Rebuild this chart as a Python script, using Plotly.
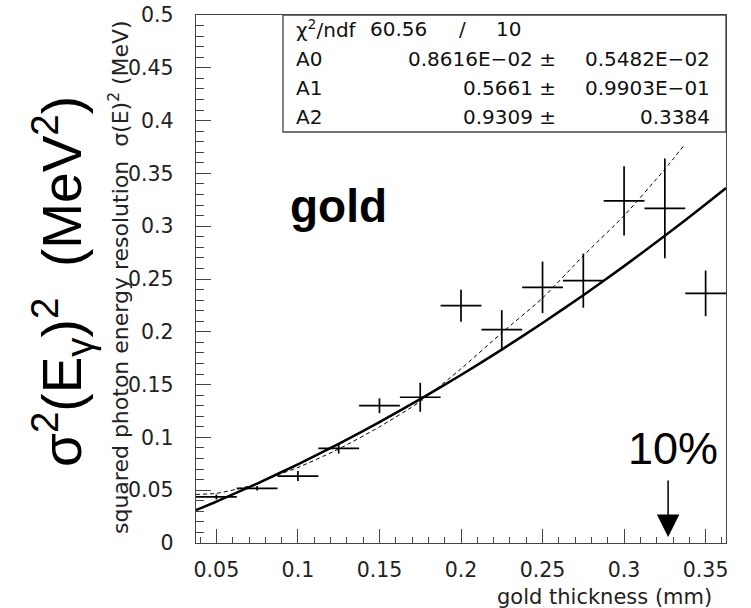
import plotly.graph_objects as go

# ---- data ----
thickness = [0.05, 0.075, 0.1, 0.125, 0.15, 0.175, 0.2, 0.225, 0.25, 0.275, 0.3, 0.325, 0.35]
thickness_err = [0.0125] * 13
sigma2 = [0.0436, 0.0518, 0.0634, 0.0897, 0.1300, 0.1380, 0.2247, 0.2020, 0.2421, 0.2484, 0.3239, 0.3169, 0.2364]
sigma2_err = [0.0024, 0.0022, 0.0047, 0.0050, 0.0070, 0.0137, 0.0152, 0.0185, 0.0244, 0.0256, 0.0328, 0.0473, 0.0216]

# solid fit curve (pol2)
fit_x = [0.0375, 0.05, 0.075, 0.1, 0.125, 0.15, 0.175, 0.2, 0.225, 0.25, 0.275, 0.3, 0.325, 0.35, 0.3625]
fit_y = [0.0311, 0.0392, 0.0563, 0.0745, 0.0939, 0.1145, 0.1362, 0.1591, 0.1831, 0.2083, 0.2347, 0.2622, 0.2909, 0.3208, 0.3361]

# dashed curve
dash_x = [0.0375, 0.05, 0.0625, 0.075, 0.085, 0.1, 0.125, 0.15, 0.175, 0.2, 0.225, 0.25, 0.275, 0.3, 0.325, 0.3375]
dash_y = [0.0460, 0.0470, 0.0510, 0.0560, 0.0630, 0.0715, 0.0890, 0.1100, 0.1340, 0.1650, 0.1990, 0.2320, 0.2720, 0.3100, 0.3540, 0.3780]

x_tick_vals = [0.05, 0.1, 0.15, 0.2, 0.25, 0.3, 0.35]
y_tick_vals = [0, 0.05, 0.1, 0.15, 0.2, 0.25, 0.3, 0.35, 0.4, 0.45, 0.5]

stats_rows = [
    ("A0", "0.8616E\u221202 \u00b1", "0.5482E\u221202"),
    ("A1", "0.5661 \u00b1", "0.9903E\u221201"),
    ("A2", "0.9309 \u00b1", "0.3384"),
]

ROOTFONT = "DejaVu Sans"
AX = "#444444"

fig = go.Figure()

fig.add_trace(go.Scatter(
    x=dash_x, y=dash_y, mode="lines",
    line=dict(color="black", width=1, dash="4px,3px", shape="spline", smoothing=0.6),
    hoverinfo="skip", showlegend=False))

fig.add_trace(go.Scatter(
    x=fit_x, y=fit_y, mode="lines",
    line=dict(color="black", width=2.5, shape="spline", smoothing=0.6),
    hoverinfo="skip", showlegend=False))

fig.add_trace(go.Scatter(
    x=thickness, y=sigma2, mode="markers",
    marker=dict(size=2, color="rgba(0,0,0,0)"),
    error_x=dict(type="data", array=thickness_err, width=0, thickness=1.7, color="black"),
    error_y=dict(type="data", array=sigma2_err, width=0, thickness=1.7, color="black"),
    showlegend=False))

fig.update_layout(
    width=751, height=608,
    margin=dict(l=196, r=25, t=15, b=65, autoexpand=False),
    paper_bgcolor="white", plot_bgcolor="white",
    font=dict(family=ROOTFONT, size=20, color="#222222"),
    xaxis=dict(range=[0.0375, 0.3625], tickvals=x_tick_vals, ticks="inside", ticklen=14,
               tickcolor=AX, tickwidth=1, showline=True, linecolor=AX, linewidth=1.3, mirror=True,
               showgrid=False, zeroline=False, ticklabelstandoff=8, automargin=False,
               ticklabeloverflow="allow",
               minor=dict(dtick=0.01, tick0=0, ticks="inside", ticklen=6, tickcolor=AX, showgrid=False),
               tickfont=dict(family=ROOTFONT, size=20.5, color="#222222")),
    yaxis=dict(range=[0, 0.5], tickvals=y_tick_vals, ticks="inside", ticklen=15,
               tickcolor=AX, tickwidth=1, showline=True, linecolor=AX, linewidth=1.3, mirror=True,
               showgrid=False, zeroline=False, ticklabelstandoff=17, automargin=False,
               ticklabeloverflow="allow",
               minor=dict(dtick=0.01, tick0=0, ticks="inside", ticklen=8, tickcolor=AX, showgrid=False),
               tickfont=dict(family=ROOTFONT, size=20.5, color="#222222")),
)

def px_x(p):
    return (p - 196) / 530.0

def px_y(p):
    return (543 - p) / 528.0

# stats box
fig.add_shape(type="rect", xref="paper", yref="paper",
              x0=px_x(283), x1=1, y0=px_y(132), y1=1,
              line=dict(color=AX, width=1.3), fillcolor="white", layer="above")

row_y = [29, 58.5, 88, 117.5]
ann = []
ann.append(dict(text="\u03c7<sup>2</sup>/ndf", x=px_x(294), y=px_y(row_y[0]), xanchor="left", yanchor="middle"))
ann.append(dict(text="60.56", x=px_x(368), y=px_y(row_y[0]), xanchor="left", yanchor="middle"))
ann.append(dict(text="/", x=px_x(462), y=px_y(row_y[0]), xanchor="center", yanchor="middle"))
ann.append(dict(text="10", x=px_x(523), y=px_y(row_y[0]), xanchor="right", yanchor="middle"))
for i, (name, val, err) in enumerate(stats_rows):
    yy = px_y(row_y[i + 1])
    ann.append(dict(text=name, x=px_x(294), y=yy, xanchor="left", yanchor="middle"))
    ann.append(dict(text=val, x=px_x(558), y=yy, xanchor="right", yanchor="middle"))
    ann.append(dict(text=err, x=px_x(712), y=yy, xanchor="right", yanchor="middle"))
for a in ann:
    fig.add_annotation(xref="paper", yref="paper", showarrow=False,
                       font=dict(family=ROOTFONT, size=20, color="#111111"), **a)

# axis titles
fig.add_annotation(xref="paper", yref="paper", x=px_x(714), y=px_y(597), xanchor="right", yanchor="middle",
                   text="gold thickness (mm)", showarrow=False,
                   font=dict(family=ROOTFONT, size=21, color="#222222"))
fig.add_annotation(xref="paper", yref="paper", x=px_x(119), y=px_y(277), xanchor="center", yanchor="middle",
                   text="squared photon energy resolution\u00a0\u00a0\u03c3(E)<sup>2</sup> (MeV)", textangle=-90,
                   showarrow=False, font=dict(family=ROOTFONT, size=22, color="#222222"))

# big hand-added label
fig.add_annotation(xref="paper", yref="paper", x=px_x(62), y=px_y(282), xanchor="center", yanchor="middle",
                   text="\u03c3<sup>2</sup>(E<sub>\u03b3</sub>)<sup>2</sup>\u00a0\u00a0(MeV<sup>2</sup>)", textangle=-90,
                   showarrow=False, font=dict(family="Liberation Sans", size=55, color="black"))

fig.add_annotation(xref="paper", yref="paper", x=px_x(338), y=px_y(206), xanchor="center", yanchor="middle",
                   text="<b>gold</b>", showarrow=False,
                   font=dict(family="Liberation Sans", size=46, color="black"))

fig.add_annotation(xref="paper", yref="paper", x=px_x(673), y=px_y(448), xanchor="center", yanchor="middle",
                   text="10%", showarrow=False,
                   font=dict(family="Liberation Sans", size=45, color="black"))

fig.add_annotation(xref="x", yref="y", x=0.327, y=0.0057, ax=0, ay=-58, axref="pixel", ayref="pixel",
                   text="", showarrow=True, arrowhead=2, arrowsize=3.0, arrowwidth=1.5, arrowcolor="black")

# remove the default 8px page margin so the 751x608 figure fills the window exactly
fig.write_html("out.html",
               config={"displayModeBar": False, "staticPlot": True},
               post_script="document.body.style.margin='0';document.body.style.overflow='hidden';")
